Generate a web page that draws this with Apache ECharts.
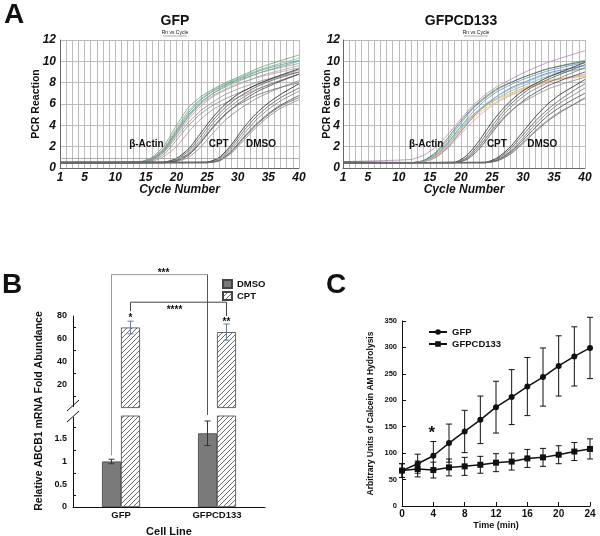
<!DOCTYPE html>
<html>
<head>
<meta charset="utf-8">
<script src="https://cdn.jsdelivr.net/npm/echarts@6/dist/echarts.min.js"></script>
<style>
html, body { margin: 0; padding: 0; background: #fff; }
#main { width: 600px; height: 536px; }
</style>
</head>
<body>
<div id="main"></div>
<script>
// ---- Panel A: amplification curves (PCR reaction vs cycle) ----
var gfpActinCycles = [1, 14, 16, 18, 20, 22, 24, 26, 28, 30, 34, 40];
var gfpActin = [
  [0.55, 0.6, 1.0, 2.1, 4.0, 5.7, 6.7, 7.4, 8.0, 8.5, 9.5, 10.6],
  [0.5, 0.55, 0.9, 1.9, 3.7, 5.4, 6.5, 7.3, 7.9, 8.4, 9.3, 10.3],
  [0.5, 0.55, 0.85, 1.7, 3.4, 5.0, 6.2, 7.0, 7.6, 8.1, 9.0, 10.0],
  [0.45, 0.5, 0.8, 1.6, 3.1, 4.6, 5.8, 6.7, 7.3, 7.8, 8.7, 9.6],
  [0.5, 0.5, 0.75, 1.5, 2.9, 4.3, 5.4, 6.2, 6.9, 7.4, 8.2, 9.0],
  [0.5, 0.5, 0.7, 1.3, 2.6, 4.0, 5.1, 5.9, 6.5, 7.0, 8.0, 9.2],
  [0.45, 0.5, 0.6, 1.1, 2.0, 3.4, 4.6, 5.5, 6.1, 6.6, 7.6, 8.8],
  [0.55, 0.55, 0.9, 1.8, 3.5, 5.2, 6.4, 7.2, 7.8, 8.3, 9.2, 10.1],
  [0.5, 0.55, 0.85, 1.7, 3.3, 4.8, 6.0, 6.8, 7.4, 7.9, 8.6, 9.4],
  [0.5, 0.5, 0.8, 1.6, 3.2, 4.9, 6.1, 7.0, 7.7, 8.2, 9.0, 9.8]
];
var gfpCptCycles = [1, 18, 20, 22, 24, 26, 28, 30, 33, 36, 40];
var gfpCpt = [
  [0.5, 0.55, 0.9, 1.8, 3.3, 4.8, 6.0, 6.9, 7.8, 8.5, 9.3],
  [0.55, 0.55, 0.8, 1.6, 3.0, 4.5, 5.7, 6.6, 7.6, 8.3, 9.0],
  [0.45, 0.5, 0.7, 1.4, 2.7, 4.2, 5.4, 6.3, 7.3, 8.0, 8.8],
  [0.5, 0.5, 0.65, 1.2, 2.4, 3.8, 5.0, 6.0, 7.1, 7.9, 8.8],
  [0.5, 0.5, 0.6, 1.0, 2.0, 3.3, 4.5, 5.4, 6.5, 7.3, 8.2],
  [0.5, 0.5, 0.7, 1.3, 2.5, 3.9, 5.1, 5.9, 6.8, 7.4, 8.0]
];
var gfpDmsoCycles = [1, 25, 27, 29, 31, 33, 35, 37, 40];
var gfpDmso = [
  [0.5, 0.55, 1.0, 2.2, 3.8, 5.1, 6.1, 6.9, 7.9],
  [0.55, 0.55, 0.9, 2.0, 3.5, 4.8, 5.8, 6.6, 7.5],
  [0.45, 0.5, 0.8, 1.8, 3.2, 4.5, 5.5, 6.3, 7.2],
  [0.5, 0.5, 0.7, 1.6, 2.9, 4.1, 5.1, 5.9, 6.8],
  [0.5, 0.5, 0.65, 1.4, 2.6, 3.8, 4.8, 5.6, 6.4],
  [0.5, 0.5, 0.7, 1.5, 2.8, 4.0, 5.0, 5.8, 6.6]
];
var gfpThreshold = 0.9;

var cdActinCycles = [1, 12, 14, 16, 18, 20, 22, 24, 26, 28, 30, 34, 40];
var cdActin = [
  [0.6, 0.8, 1.2, 2.0, 3.2, 4.6, 5.9, 6.9, 7.7, 8.3, 8.9, 9.9, 11.0],
  [0.5, 0.5, 0.7, 1.4, 2.7, 4.2, 5.6, 6.6, 7.4, 8.0, 8.5, 9.3, 10.1],
  [0.55, 0.5, 0.65, 1.2, 2.4, 3.9, 5.3, 6.4, 7.2, 7.8, 8.3, 9.1, 9.9],
  [0.5, 0.5, 0.6, 1.1, 2.1, 3.5, 4.7, 5.6, 6.3, 6.9, 7.4, 8.1, 8.7],
  [0.45, 0.5, 0.6, 1.0, 2.0, 3.4, 4.8, 5.9, 6.8, 7.5, 8.0, 8.9, 9.6],
  [0.5, 0.5, 0.65, 1.3, 2.5, 3.9, 5.0, 5.9, 6.6, 7.2, 7.7, 8.6, 9.4],
  [0.5, 0.5, 0.6, 1.0, 1.9, 3.2, 4.4, 5.4, 6.2, 6.8, 7.3, 8.1, 8.8],
  [0.55, 0.5, 0.7, 1.5, 2.9, 4.4, 5.7, 6.7, 7.5, 8.0, 8.5, 9.3, 10.0],
  [0.5, 0.5, 0.6, 1.1, 2.2, 3.6, 4.9, 5.8, 6.5, 7.0, 7.5, 8.2, 8.6],
  [0.5, 0.5, 0.65, 1.2, 2.3, 3.7, 5.0, 6.0, 6.8, 7.4, 7.9, 8.8, 9.3]
];
var cdCptCycles = [1, 19, 21, 23, 25, 27, 29, 31, 34, 37, 40];
var cdCpt = [
  [0.5, 0.55, 1.2, 2.6, 4.3, 5.7, 6.8, 7.6, 8.5, 9.2, 9.9],
  [0.55, 0.5, 1.0, 2.3, 3.9, 5.4, 6.5, 7.4, 8.3, 9.0, 9.7],
  [0.45, 0.5, 0.9, 2.0, 3.6, 5.1, 6.2, 7.1, 8.0, 8.7, 9.4],
  [0.5, 0.5, 0.8, 1.8, 3.3, 4.7, 5.8, 6.7, 7.7, 8.4, 9.0],
  [0.5, 0.5, 0.9, 2.1, 3.5, 4.8, 5.8, 6.5, 7.4, 8.0, 8.5]
];
var cdDmsoCycles = [1, 24, 26, 28, 30, 32, 34, 36, 38, 40];
var cdDmso = [
  [0.5, 0.55, 1.0, 2.0, 3.4, 4.8, 6.0, 6.9, 7.6, 8.3],
  [0.55, 0.5, 0.9, 1.8, 3.1, 4.4, 5.5, 6.4, 7.2, 7.9],
  [0.45, 0.5, 0.8, 1.6, 2.8, 4.1, 5.2, 6.1, 6.8, 7.5],
  [0.5, 0.5, 0.75, 1.5, 2.6, 3.8, 4.9, 5.7, 6.4, 7.0],
  [0.5, 0.5, 0.7, 1.4, 2.4, 3.5, 4.5, 5.3, 5.9, 6.5],
  [0.5, 0.5, 0.7, 1.3, 2.3, 3.4, 4.4, 5.2, 5.9, 6.6]
];

// ---- Panel B: ABCB1 fold abundance ----
var cellLines = ['GFP', 'GFPCD133'];
var dmsoMean = [1.0, 1.62];
var dmsoErr = [0.05, 0.27];
var cptMean = [70, 66];
var cptErr = [5.5, 7];

// ---- Panel C: calcein AM hydrolysis ----
var timeMin = [0, 2, 4, 6, 8, 10, 12, 14, 16, 18, 20, 22, 24];
var gfpCalcein = [67, 80, 95, 119, 141, 163, 187, 206, 226, 244, 265, 283, 299];
var gfpCalceinErr = [13, 18, 27, 36, 40, 45, 49, 52, 55, 55, 57, 56, 58];
var cdCalcein = [67, 70, 68, 73, 75, 78, 82, 84, 90, 92, 97, 103, 108];
var cdCalceinErr = [13, 15, 15, 16, 17, 16, 17, 16, 17, 17, 17, 17, 19];

// ---- styles ----
var FONT = '"Liberation Sans", Arial, sans-serif';
var gfpActinColors = ['#5f9a68', '#7fae84', '#5aa3a0', '#c48c9c', '#8c8c8c', '#6f8f75', '#b07f8f', '#4f8f86', '#a0a0a0', '#7d9d7d'];
var cdActinColors = ['#a77fae', '#5f8f6a', '#6a7fc0', '#d8c26a', '#5c6fb8', '#5fb0a6', '#d49cab', '#3f6f5a', '#e0a860', '#8cb0c0'];
var darkColors = ['#1a1a1a', '#555', '#777', '#444', '#888', '#666'];

var hatch = document.createElement('canvas');
hatch.width = 5; hatch.height = 5;
var hc = hatch.getContext('2d');
hc.fillStyle = '#fff'; hc.fillRect(0, 0, 5, 5);
hc.strokeStyle = '#444'; hc.lineWidth = 0.8;
hc.beginPath();
hc.moveTo(0, 5); hc.lineTo(5, 0);
hc.moveTo(-1, 1); hc.lineTo(1, -1);
hc.moveTo(4, 6); hc.lineTo(6, 4);
hc.stroke();
var hatchFill = { image: hatch, repeat: 'repeat' };

function curves(idx, cycles, rows, colors, width, z) {
  return rows.map(function (vals, i) {
    return {
      type: 'line', xAxisIndex: idx, yAxisIndex: idx, silent: true, z: z,
      data: cycles.map(function (c, j) { return [c, vals[j]]; }),
      smooth: 0.2, showSymbol: false,
      lineStyle: { color: colors[i % colors.length], width: width }
    };
  });
}

function errBars(idx, xs, means, errs, offset, color, cap) {
  return {
    type: 'custom', xAxisIndex: idx, yAxisIndex: idx, silent: true, z: 6,
    data: means.map(function (m, i) { return [xs[i], m - errs[i], m + errs[i]]; }),
    renderItem: function (params, api) {
      var lo = api.coord([api.value(0), api.value(1)]);
      var hi = api.coord([api.value(0), api.value(2)]);
      var x = lo[0] + offset;
      var st = { stroke: color, lineWidth: 1 };
      return {
        type: 'group', children: [
          { type: 'line', shape: { x1: x, y1: lo[1], x2: x, y2: hi[1] }, style: st },
          { type: 'line', shape: { x1: x - cap, y1: hi[1], x2: x + cap, y2: hi[1] }, style: st },
          { type: 'line', shape: { x1: x - cap, y1: lo[1], x2: x + cap, y2: lo[1] }, style: st }
        ]
      };
    }
  };
}

function pcrX(gi) {
  return {
    gridIndex: gi, type: 'value', min: 1, max: 40, interval: 1,
    axisLine: { lineStyle: { color: '#666' } }, axisTick: { show: false },
    splitLine: { show: true, lineStyle: { color: '#bcbcbc', width: 1 } },
    axisLabel: {
      margin: 4, color: '#111', fontSize: 12, fontWeight: 'bold', fontStyle: 'italic', fontFamily: FONT,
      formatter: function (v) { return (v === 1 || v % 5 === 0) ? String(v) : ''; }
    },
    name: 'Cycle Number', nameLocation: 'middle', nameGap: 16, nameMoveOverlap: false,
    nameTextStyle: { color: '#111', fontSize: 12, fontWeight: 'bold', fontStyle: 'italic', fontFamily: FONT }
  };
}
function pcrY(gi, gap, margin) {
  return {
    gridIndex: gi, type: 'value', min: 0, max: 12, interval: 2,
    axisLine: { show: true, lineStyle: { color: '#666' } }, axisTick: { show: false },
    splitLine: { show: true, lineStyle: { color: '#bcbcbc', width: 1 } },
    axisLabel: { margin: margin, color: '#111', fontSize: 12, fontWeight: 'bold', fontStyle: 'italic', fontFamily: FONT },
    name: 'PCR Reaction', nameLocation: 'middle', nameGap: gap, nameMoveOverlap: false,
    nameTextStyle: { color: '#111', fontSize: 10.5, fontWeight: 'bold', fontFamily: FONT }
  };
}

var blackAxis = { lineStyle: { color: '#111', width: 1 } };
var boldLabel = function (size, margin) {
  return { color: '#111', fontSize: size, fontWeight: 'bold', fontFamily: FONT, margin: margin };
};

var series = []
  .concat(curves(0, gfpActinCycles, gfpActin, gfpActinColors, 0.75, 2))
  .concat(curves(0, gfpCptCycles, gfpCpt, darkColors, 0.8, 3))
  .concat(curves(0, gfpDmsoCycles, gfpDmso, darkColors, 0.8, 3))
  .concat(curves(1, cdActinCycles, cdActin, cdActinColors, 0.75, 2))
  .concat(curves(1, cdCptCycles, cdCpt, darkColors, 0.8, 3))
  .concat(curves(1, cdDmsoCycles, cdDmso, darkColors, 0.8, 3));

series[0].markLine = {
  silent: true, symbol: 'none', label: { show: false },
  lineStyle: { color: '#999', width: 0.8, type: 'solid' },
  data: [{ yAxis: gfpThreshold }]
};

var dmsoStyle = { color: '#7a7a7a', borderColor: '#444', borderWidth: 0.8 };
var cptStyle = { color: hatchFill, borderColor: '#444', borderWidth: 0.8 };

series.push(
  { name: 'DMSO', type: 'bar', xAxisIndex: 3, yAxisIndex: 3, data: dmsoMean, barWidth: 19, barGap: '0%', itemStyle: dmsoStyle, silent: true },
  { name: 'CPT', type: 'bar', xAxisIndex: 3, yAxisIndex: 3, data: cptMean, barWidth: 19, barGap: '0%', itemStyle: cptStyle, silent: true },
  { name: 'DMSO', type: 'bar', xAxisIndex: 2, yAxisIndex: 2, data: ['-', '-'], barWidth: 19, barGap: '0%', itemStyle: dmsoStyle, silent: true },
  { name: 'CPT', type: 'bar', xAxisIndex: 2, yAxisIndex: 2, data: cptMean, barWidth: 19, barGap: '0%', itemStyle: cptStyle, silent: true },
  errBars(3, [0, 1], dmsoMean, dmsoErr, -9.5, '#333', 3),
  errBars(2, [0, 1], cptMean, cptErr, 9.5, '#6878a0', 3)
);

series.push(
  {
    name: 'GFP', type: 'line', xAxisIndex: 4, yAxisIndex: 4, z: 5,
    data: timeMin.map(function (t, i) { return [t, gfpCalcein[i]]; }),
    symbol: 'circle', symbolSize: 6, lineStyle: { color: '#111', width: 1.5 }, itemStyle: { color: '#111' }
  },
  {
    name: 'GFPCD133', type: 'line', xAxisIndex: 4, yAxisIndex: 4, z: 5,
    data: timeMin.map(function (t, i) { return [t, cdCalcein[i]]; }),
    symbol: 'rect', symbolSize: 6, lineStyle: { color: '#111', width: 1.5 }, itemStyle: { color: '#111' }
  },
  errBars(4, timeMin, gfpCalcein, gfpCalceinErr, 0, '#111', 3),
  errBars(4, timeMin, cdCalcein, cdCalceinErr, 0, '#111', 3)
);

var option = {
  animation: false,
  backgroundColor: '#fff',
  grid: [
    { left: 60, top: 40, width: 239, height: 128 },
    { left: 343, top: 40, width: 242, height: 128 },
    { left: 73, top: 316, width: 192, height: 92 },
    { left: 73, top: 416, width: 192, height: 91 },
    { left: 402, top: 321, width: 188, height: 185 }
  ],
  xAxis: [
    pcrX(0),
    pcrX(1),
    { gridIndex: 2, type: 'category', data: cellLines, show: false },
    {
      gridIndex: 3, type: 'category', data: cellLines, axisLine: blackAxis,
      axisTick: { inside: true, length: 4, lineStyle: { color: '#111' } },
      axisLabel: boldLabel(9.5, 3)
    },
    {
      gridIndex: 4, type: 'value', min: 0, max: 24, interval: 4, axisLine: blackAxis,
      axisTick: { inside: true, length: 4, lineStyle: { color: '#111' } }, splitLine: { show: false },
      axisLabel: boldLabel(10, 3),
      name: 'Time (min)', nameLocation: 'middle', nameGap: 15, nameMoveOverlap: false,
      nameTextStyle: { color: '#111', fontSize: 9, fontWeight: 'bold', fontFamily: FONT }
    }
  ],
  yAxis: [
    pcrY(0, 18, 4),
    pcrY(1, 10, 3),
    {
      gridIndex: 2, type: 'value', min: 0, max: 80, interval: 20, axisLine: { show: true, lineStyle: { color: '#111' } },
      axisTick: { inside: true, length: 4, lineStyle: { color: '#111' } },
      minorTick: { show: true, splitNumber: 2, length: 3, lineStyle: { color: '#111' } },
      splitLine: { show: false },
      axisLabel: Object.assign(boldLabel(9, 6), { formatter: function (v) { return v === 0 ? '' : String(v); } })
    },
    {
      gridIndex: 3, type: 'value', min: 0, max: 2, interval: 0.5, axisLine: { show: true, lineStyle: { color: '#111' } },
      axisTick: { inside: true, length: 4, lineStyle: { color: '#111' } },
      minorTick: { show: true, splitNumber: 2, length: 3, lineStyle: { color: '#111' } },
      splitLine: { show: false },
      axisLabel: Object.assign(boldLabel(9, 6), { formatter: function (v) { return v === 2 ? '' : String(v); } })
    },
    {
      gridIndex: 4, type: 'value', min: 0, max: 350, interval: 50, axisLine: { show: true, lineStyle: { color: '#111' } },
      axisTick: { inside: true, length: 4, lineStyle: { color: '#111' } }, splitLine: { show: false },
      axisLabel: boldLabel(7.5, 5),
      name: 'Arbitrary Units of Calcein AM Hydrolysis', nameLocation: 'middle', nameGap: 27, nameMoveOverlap: false,
      nameTextStyle: { color: '#111', fontSize: 8.5, fontWeight: 'bold', fontFamily: FONT }
    }
  ],
  legend: [
    {
      data: ['DMSO', 'CPT'], orient: 'vertical', left: 222, top: 279, icon: 'rect',
      itemWidth: 9, itemHeight: 8, itemGap: 2, selectedMode: false, padding: 0,
      textStyle: { color: '#111', fontSize: 9.5, fontWeight: 'bold', fontFamily: FONT }
    },
    {
      data: ['GFP', 'GFPCD133'], orient: 'vertical', left: 428, top: 327,
      itemWidth: 18, itemHeight: 7, itemGap: 2, selectedMode: false, padding: 0,
      textStyle: { color: '#111', fontSize: 9.5, fontWeight: 'bold', fontFamily: FONT }
    }
  ],
  series: series
};

var chart = echarts.init(document.getElementById('main'));
chart.setOption(option);

function px(gi, pt) { return chart.convertToPixel({ gridIndex: gi }, pt); }
function txt(x, y, s, font, extra) {
  var o = {
    type: 'text', x: x, y: y, silent: true, z: 20,
    style: { text: s, font: font, fill: '#111', align: 'center', verticalAlign: 'middle', textAlign: 'center', textVerticalAlign: 'middle' }
  };
  if (extra) { for (var k in extra) o[k] = extra[k]; }
  return o;
}
function seg(x1, y1, x2, y2, color, w) {
  return { type: 'line', silent: true, z: 20, shape: { x1: x1, y1: y1, x2: x2, y2: y2 }, style: { stroke: color, lineWidth: w || 1 } };
}

var g = [];
// panel letters and titles
g.push(txt(14, 15, 'A', 'bold 28px ' + FONT));
g.push(txt(12, 285, 'B', 'bold 28px ' + FONT));
g.push(txt(336, 285, 'C', 'bold 28px ' + FONT));
g.push(txt(175, 21, 'GFP', 'bold 14px ' + FONT));
g.push(txt(461, 21, 'GFPCD133', 'bold 14px ' + FONT));
g.push(txt(175, 33, 'Rn vs Cycle', '5px ' + FONT));
g.push(seg(163, 36, 187, 36, '#555', 0.5));
g.push(txt(476, 33, 'Rn vs Cycle', '5px ' + FONT));
g.push(seg(464, 36, 488, 36, '#555', 0.5));

// group labels on the amplification plots
var lab = 'bold 10px ' + FONT;
var p;
p = px(0, [15.1, 2.25]); g.push(txt(p[0], p[1], 'β-Actin', lab));
p = px(0, [26.9, 2.25]); g.push(txt(p[0], p[1], 'CPT', lab));
p = px(0, [33.8, 2.25]); g.push(txt(p[0], p[1], 'DMSO', lab));
p = px(1, [14.4, 2.25]); g.push(txt(p[0], p[1], 'β-Actin', lab));
p = px(1, [25.8, 2.25]); g.push(txt(p[0], p[1], 'CPT', lab));
p = px(1, [33.1, 2.25]); g.push(txt(p[0], p[1], 'DMSO', lab));

// panel B axis titles
g.push(txt(39, 411, 'Relative ABCB1 mRNA Fold Abundance', 'bold 10.5px ' + FONT, { rotation: Math.PI / 2 }));
g.push(txt(169, 532, 'Cell Line', 'bold 11px ' + FONT));

// axis break marks
var ax = px(3, [0, 0])[0] - 48;
var upBot = px(2, [0, 0])[1];
var loTop = px(3, [0, 2])[1];
g.push({ type: 'rect', silent: true, z: 19, shape: { x: ax - 2, y: upBot - 1, width: 4, height: loTop - upBot + 2 }, style: { fill: '#fff' } });
g.push(seg(ax - 6, upBot + 3, ax + 6, upBot - 8, '#111', 1));
g.push(seg(ax - 6, loTop + 6, ax + 6, loTop - 5, '#111', 1));

// significance brackets
var xDm0 = px(3, [0, 0])[0] - 9.5, xDm1 = px(3, [1, 0])[0] - 9.5;
var xCp0 = px(2, [0, 0])[0] + 9.5, xCp1 = px(2, [1, 0])[0] + 9.5;
var topA = px(2, [0, 116])[1];
var yDm0 = px(3, [0, dmsoMean[0] + dmsoErr[0]])[1] - 4;
var yDm1 = px(3, [1, dmsoMean[1] + dmsoErr[1]])[1] - 6;
g.push(seg(xDm0, yDm0, xDm0, topA, '#999', 1));
g.push(seg(xDm0, topA, xDm1, topA, '#999', 1));
g.push(seg(xDm1, topA, xDm1, yDm1, '#555', 1));
g.push(txt((xDm0 + xDm1) / 2 + 4, topA - 1, '***', 'bold 10px ' + FONT));

var topB = px(2, [0, 92])[1];
var yCp0 = px(2, [0, cptMean[0] + cptErr[0]])[1];
var yCp1 = px(2, [1, cptMean[1] + cptErr[1]])[1];
g.push(seg(xCp0, yCp0 - 10, xCp0, topB, '#444', 1));
g.push(seg(xCp0, topB, xCp1, topB, '#444', 1));
g.push(seg(xCp1, topB, xCp1, yCp1 - 8, '#444', 1));
g.push(txt((xCp0 + xCp1) / 2 - 4, topB + 8, '****', 'bold 10px ' + FONT));
g.push(txt(xCp0, yCp0 - 3, '*', 'bold 10px ' + FONT));
g.push(txt(xCp1, yCp1 - 2, '**', 'bold 10px ' + FONT));

// panel C significance
p = px(4, [3.8, 145]);
g.push(txt(p[0], p[1] + 4, '*', 'bold 17px ' + FONT));

chart.setOption({ graphic: g });
</script>
</body>
</html>
